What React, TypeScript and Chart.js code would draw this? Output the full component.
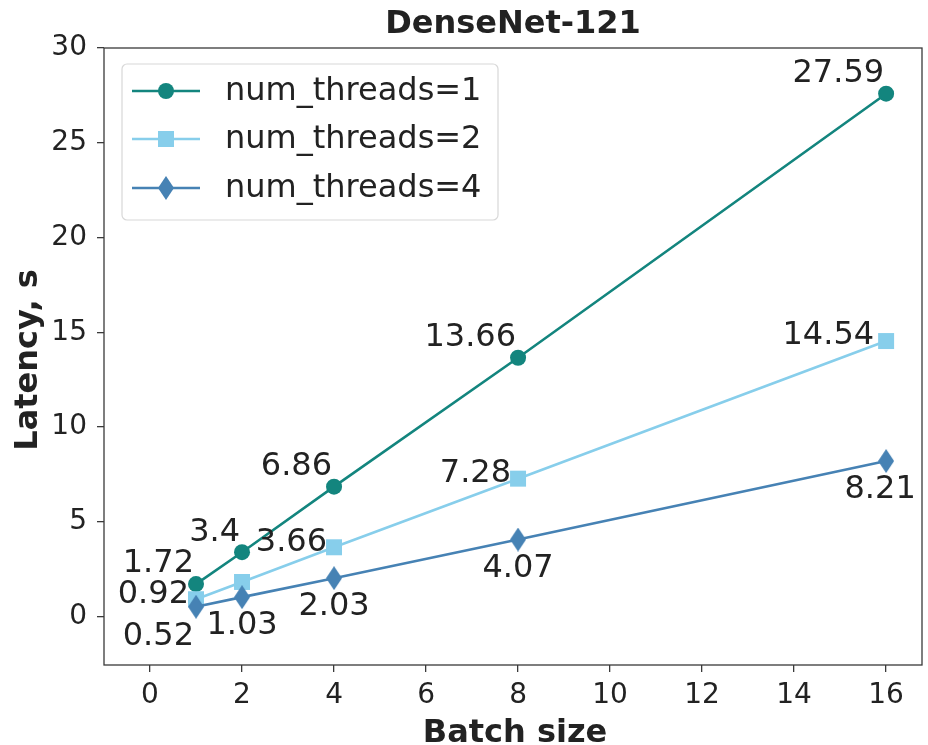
import React, { useEffect, useRef } from 'react';
import { Chart, registerables } from 'chart.js';

Chart.register(...registerables);

const batchSizes = [1, 2, 4, 8, 16];
const threads1 = [1.72, 3.4, 6.86, 13.66, 27.59];
const threads2 = [0.92, 1.83, 3.66, 7.28, 14.54];
const threads4 = [0.52, 1.03, 2.03, 4.07, 8.21];
const labels1 = ['1.72', '3.4', '6.86', '13.66', '27.59'];
const labels2 = ['0.92', '', '3.66', '7.28', '14.54'];
const labels4 = ['0.52', '1.03', '2.03', '4.07', '8.21'];
const seriesNames = ['num_threads=1', 'num_threads=2', 'num_threads=4'];
const xTicks = [0, 2, 4, 6, 8, 10, 12, 14, 16];
const yTicks = [0, 5, 10, 15, 20, 25, 30];
const titleText = 'DenseNet-121';
const xTitle = 'Batch size';
const yTitle = 'Latency, s';

const TEAL = '#13857e';
const SKY = '#87ceeb';
const STEEL = '#4682b4';
const TEXT = '#222222';
const AXIS = '#3a3a3a';
const FONT = '"DejaVu Sans", sans-serif';

function makeDiamond(w: number, h: number, color: string) {
  const c = document.createElement('canvas');
  c.width = w;
  c.height = h;
  const ctx = c.getContext('2d')!;
  ctx.fillStyle = color;
  ctx.beginPath();
  ctx.moveTo(w / 2, 0);
  ctx.lineTo(w, h / 2);
  ctx.lineTo(w / 2, h);
  ctx.lineTo(0, h / 2);
  ctx.closePath();
  ctx.fill();
  return c;
}

export default function App() {
  const ref = useRef<HTMLCanvasElement | null>(null);

  useEffect(() => {
    document.body.style.margin = '0';
    const canvas = ref.current!;
    const diamond = makeDiamond(16, 24, STEEL);

    const annotate = {
      id: 'annotate',
      afterDatasetsDraw(chart: any) {
        const ctx = chart.ctx;
        ctx.save();
        ctx.fillStyle = TEXT;
        ctx.font = `32px ${FONT}`;
        ctx.textBaseline = 'middle';
        const lists = [labels1, labels2, labels4];
        lists.forEach((lab, di) => {
          const meta = chart.getDatasetMeta(di);
          meta.data.forEach((pt: any, i: number) => {
            const t = lab[i];
            if (!t) return;
            if (di === 0) {
              ctx.textAlign = 'right';
              ctx.fillText(t, pt.x - 2, pt.y - 20);
            } else if (di === 1) {
              ctx.textAlign = 'right';
              ctx.fillText(t, pt.x - (i === 4 ? 12 : 7), pt.y - 5);
            } else {
              if (i === 0) {
                ctx.textAlign = 'right';
                ctx.fillText(t, pt.x - 2, pt.y + 30);
              } else {
                ctx.textAlign = 'center';
                ctx.fillText(t, pt.x - (i === 4 ? 6 : 0), pt.y + 29);
              }
            }
          });
        });
        ctx.restore();
      },
      afterDraw(chart: any) {
        const ctx = chart.ctx;
        const a = chart.chartArea;
        ctx.save();
        // frame
        ctx.strokeStyle = AXIS;
        ctx.lineWidth = 1.3;
        ctx.strokeRect(a.left, a.top, a.right - a.left, a.bottom - a.top);
        // title
        ctx.fillStyle = TEXT;
        ctx.font = `bold 32px ${FONT}`;
        ctx.textAlign = 'center';
        ctx.textBaseline = 'alphabetic';
        ctx.fillText(titleText, (a.left + a.right) / 2, 33);
        // x title
        ctx.fillText(xTitle, (a.left + a.right) / 2 + 2, 742);
        // y title
        ctx.save();
        ctx.translate(37, 360);
        ctx.rotate(-Math.PI / 2);
        ctx.fillText(yTitle, 0, 0);
        ctx.restore();
        // legend
        const lx = 122, ly = 64, lw = 376, lh = 156;
        ctx.beginPath();
        ctx.roundRect(lx, ly, lw, lh, 5);
        ctx.fillStyle = 'rgba(255,255,255,0.85)';
        ctx.fill();
        ctx.strokeStyle = '#d8d8d8';
        ctx.lineWidth = 1.2;
        ctx.stroke();
        const rows = [91, 139, 188];
        const colors = [TEAL, SKY, STEEL];
        rows.forEach((ry, i) => {
          ctx.strokeStyle = colors[i];
          ctx.lineWidth = 2.6;
          ctx.beginPath();
          ctx.moveTo(132, ry);
          ctx.lineTo(200, ry);
          ctx.stroke();
          ctx.fillStyle = colors[i];
          if (i === 0) {
            ctx.beginPath();
            ctx.arc(166, ry, 8, 0, Math.PI * 2);
            ctx.fill();
          } else if (i === 1) {
            ctx.fillRect(158, ry - 8, 16, 16);
          } else {
            ctx.drawImage(diamond, 166 - 8, ry - 12);
          }
          ctx.fillStyle = TEXT;
          ctx.font = `32px ${FONT}`;
          ctx.textAlign = 'left';
          ctx.textBaseline = 'middle';
          ctx.fillText(seriesNames[i], 225, ry + 1);
        });
        ctx.restore();
      },
    };

    const chart = new Chart(canvas, {
      type: 'line',
      data: {
        datasets: [
          {
            label: seriesNames[0],
            data: batchSizes.map((x, i) => ({ x, y: threads1[i] })),
            borderColor: TEAL,
            backgroundColor: TEAL,
            borderWidth: 2.6,
            pointStyle: 'circle',
            pointRadius: 8,
            pointBorderWidth: 0,
            order: 2,
          },
          {
            label: seriesNames[1],
            data: batchSizes.map((x, i) => ({ x, y: threads2[i] })),
            borderColor: SKY,
            backgroundColor: SKY,
            borderWidth: 2.6,
            pointStyle: 'rect',
            pointRadius: 11.3,
            pointBorderWidth: 0,
            order: 1,
          },
          {
            label: seriesNames[2],
            data: batchSizes.map((x, i) => ({ x, y: threads4[i] })),
            borderColor: STEEL,
            backgroundColor: STEEL,
            borderWidth: 2.6,
            pointStyle: diamond as any,
            pointRadius: 10,
            pointBorderWidth: 0,
            order: 0,
          },
        ],
      },
      options: {
        animation: false,
        responsive: false,
        devicePixelRatio: 1,
        layout: { autoPadding: false, padding: { top: 48, right: 6, left: 0, bottom: 0 } },
        plugins: {
          legend: { display: false },
          title: { display: false },
          tooltip: { enabled: false },
        },
        scales: {
          x: {
            type: 'linear',
            min: -1,
            max: 16.78,
            afterFit: (s: any) => {
              s.height = 80;
            },
            afterBuildTicks: (s: any) => {
              s.ticks = xTicks.map((v) => ({ value: v }));
            },
            ticks: {
              font: { family: FONT, size: 28 },
              color: TEXT,
              padding: 7,
              maxRotation: 0,
              autoSkip: false,
            },
            grid: {
              display: true,
              drawOnChartArea: false,
              drawTicks: true,
              tickLength: 7,
              color: AXIS,
              lineWidth: 1.3,
            },
            border: { display: false },
          },
          y: {
            type: 'linear',
            min: -2.55,
            max: 30,
            afterFit: (s: any) => {
              s.width = 104;
            },
            afterBuildTicks: (s: any) => {
              s.ticks = yTicks.map((v) => ({ value: v }));
            },
            ticks: {
              font: { family: FONT, size: 28 },
              color: TEXT,
              padding: 10,
              autoSkip: false,
            },
            grid: {
              display: true,
              drawOnChartArea: false,
              drawTicks: true,
              tickLength: 7,
              color: AXIS,
              lineWidth: 1.3,
            },
            border: { display: false },
          },
        },
      },
      plugins: [annotate],
    });

    return () => {
      chart.destroy();
    };
  }, []);

  return (
    <div style={{ position: 'absolute', left: 0, top: 0, width: 928, height: 745 }}>
      <canvas ref={ref} width={928} height={745} style={{ display: 'block', width: 928, height: 745 }} />
    </div>
  );
}
